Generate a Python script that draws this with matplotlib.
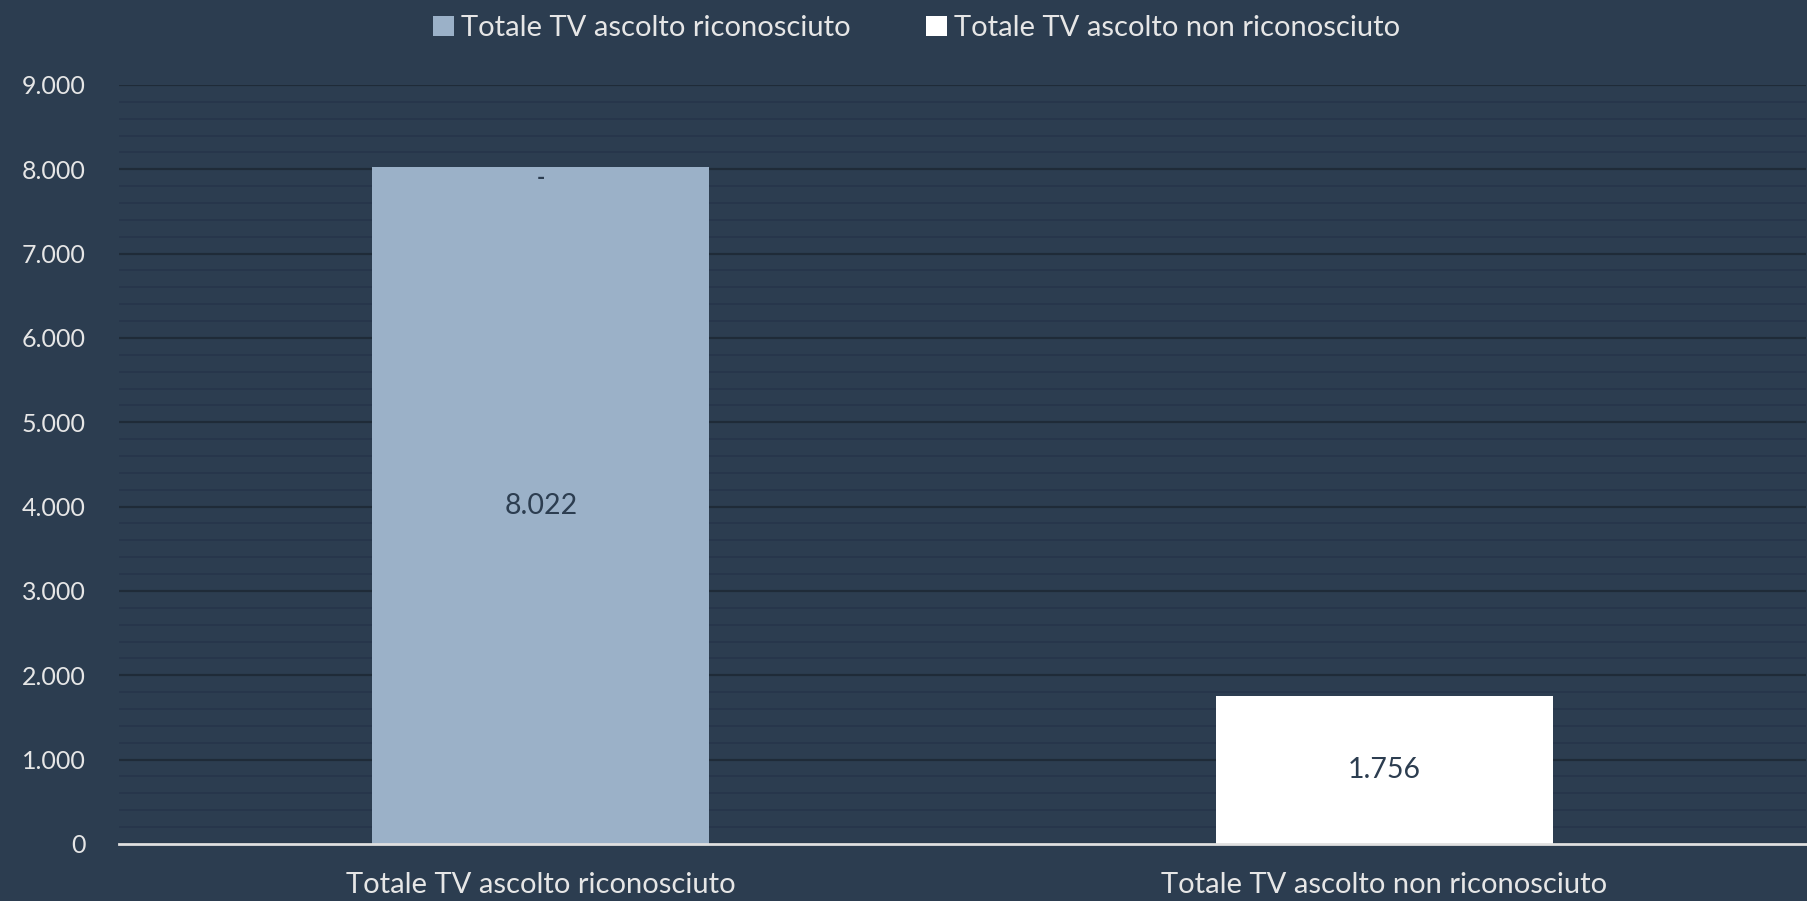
import matplotlib
matplotlib.use("Agg")
import matplotlib.pyplot as plt
from matplotlib.ticker import MultipleLocator, FuncFormatter
from matplotlib.patches import Patch

categories = ["Totale TV ascolto riconosciuto", "Totale TV ascolto non riconosciuto"]
series_names = ["Totale TV ascolto riconosciuto", "Totale TV ascolto non riconosciuto"]
riconosciuto = [8022, 0]
non_riconosciuto = [0, 1756]

bg = "#2c3d50"
c1 = "#9bb1c8"
c2 = "#ffffff"
txt = "#e6e6e6"
font = "Lato"

fig = plt.figure(figsize=(18.08, 9.01), dpi=100, facecolor=bg)
ax = fig.add_axes([0.0658, 0.0633, 0.9332, 0.8424], facecolor=bg)

x = list(range(len(categories)))
ax.bar(x, riconosciuto, width=0.4, color=c1, zorder=3)
ax.bar(x, non_riconosciuto, width=0.4, bottom=riconosciuto, color=c2, zorder=3)

def fmt(v):
    return f"{v:,.0f}".replace(",", ".")

# data labels
for i in x:
    v = riconosciuto[i]
    if v > 0:
        ax.text(i, v / 2, fmt(v), ha="center", va="center", fontsize=20.5,
                color=bg, family=font, zorder=5)
    v2 = non_riconosciuto[i]
    if v2 > 0:
        ax.text(i, riconosciuto[i] + v2 / 2, fmt(v2), ha="center", va="center",
                fontsize=20.5, color=bg, family=font, zorder=5)
    elif riconosciuto[i] > 0:
        ax.text(i, riconosciuto[i] - 10, "-", ha="center", va="top",
                fontsize=16, fontweight="bold", color=bg, family=font, zorder=5)

ax.set_xlim(-0.5, 1.5)
ax.set_ylim(0, 9000)
ax.yaxis.set_major_locator(MultipleLocator(1000))
ax.yaxis.set_minor_locator(MultipleLocator(200))
ax.yaxis.set_major_formatter(FuncFormatter(lambda v, p: fmt(v)))
ax.grid(axis="y", which="major", color="#1f2b38", linewidth=1.6, zorder=0)
ax.grid(axis="y", which="minor", color="#26354a", linewidth=1.2, zorder=0)
ax.set_axisbelow(True)

for s in ["top", "right", "left"]:
    ax.spines[s].set_visible(False)
ax.spines["bottom"].set_color("#e0e0e0")
ax.spines["bottom"].set_linewidth(2)
ax.spines["bottom"].set_zorder(4)

ax.set_xticks(x)
ax.set_xticklabels(categories)
ax.tick_params(axis="x", which="both", length=0, labelsize=21, labelcolor=txt, pad=20)
ax.tick_params(axis="y", which="both", length=0, labelsize=18, labelcolor=txt, pad=24)
for lab in ax.get_xticklabels() + ax.get_yticklabels():
    lab.set_family(font)

handles = [Patch(facecolor=c1, edgecolor="none"), Patch(facecolor=c2, edgecolor="none")]
fig.legend(handles, series_names, loc="upper center", bbox_to_anchor=(0.507, 1.012), ncol=2,
           frameon=False, labelcolor=txt, prop={"family": font, "size": 21},
           handlelength=0.7, handleheight=0.7, handletextpad=0.25, columnspacing=2.6)

fig.savefig("out.png", dpi=100, facecolor=bg)
